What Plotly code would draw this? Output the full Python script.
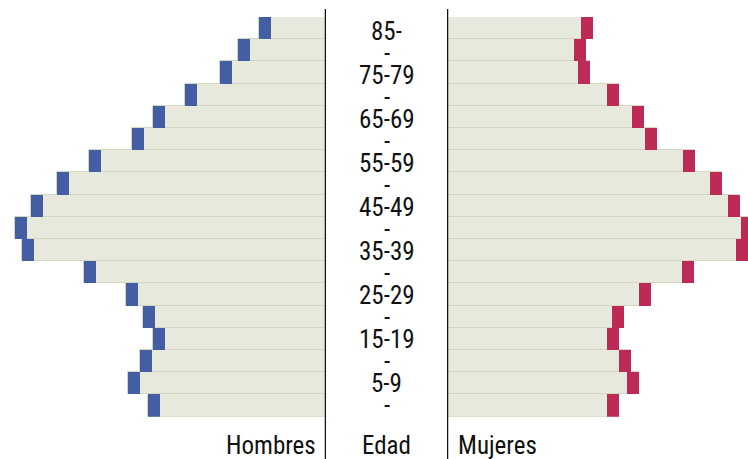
import plotly.graph_objects as go

# Age groups, bottom (youngest) to top (oldest)
ages = ["0-4", "5-9", "10-14", "15-19", "20-24", "25-29", "30-34", "35-39", "40-44",
        "45-49", "50-54", "55-59", "60-64", "65-69", "70-74", "75-79", "80-84", "85-"]
# Labels shown in the middle column (every other group, dashes between)
age_labels = ["-", "5-9", "-", "15-19", "-", "25-29", "-", "35-39", "-",
              "45-49", "-", "55-59", "-", "65-69", "-", "75-79", "-", "85-"]

# Values (relative units)
hombres = [17.8, 19.8, 18.6, 17.3, 18.3, 20.0, 24.2, 30.4, 31.1,
           29.5, 26.9, 23.7, 19.4, 17.3, 14.1, 10.6, 8.8, 6.7]
mujeres = [17.2, 19.2, 18.4, 17.2, 17.7, 20.4, 24.7, 30.1, 30.6,
           29.3, 27.5, 24.8, 21.0, 19.7, 17.2, 14.3, 13.9, 14.6]

MARK = 1.2  # width of the end marker in value units

BEIGE = "#e7e9dc"
BEIGE_LINE = "#d3d7bf"
BLUE = "#445ea3"
RED = "#bc2a55"
FONT = "Roboto Condensed, Liberation Sans Narrow, DejaVu Sans Condensed, sans-serif"
FS = 25

W, H = 748, 459
fig = go.Figure()

# Left (Hombres)
fig.add_trace(go.Bar(y=ages, x=hombres, orientation="h", xaxis="x", yaxis="y",
                     marker=dict(color=BEIGE, line=dict(color=BEIGE_LINE, width=1)),
                     hoverinfo="skip", showlegend=False))
fig.add_trace(go.Bar(y=ages, x=[MARK] * len(ages), base=[v - MARK for v in hombres],
                     orientation="h", xaxis="x", yaxis="y",
                     marker=dict(color=BLUE, line=dict(width=0)),
                     showlegend=False, name="Hombres"))
# Right (Mujeres)
fig.add_trace(go.Bar(y=ages, x=mujeres, orientation="h", xaxis="x2", yaxis="y2",
                     marker=dict(color=BEIGE, line=dict(color=BEIGE_LINE, width=1)),
                     hoverinfo="skip", showlegend=False))
fig.add_trace(go.Bar(y=ages, x=[MARK] * len(ages), base=[v - MARK for v in mujeres],
                     orientation="h", xaxis="x2", yaxis="y2",
                     marker=dict(color=RED, line=dict(width=0)),
                     showlegend=False, name="Mujeres"))

bar_dom = [(H - 416.7) / H, (H - 17) / H]
lab_dom = [(H - 416) / H, (H - 21) / H]

ycommon = dict(type="category", categoryorder="array", categoryarray=ages,
               range=[-0.5, 17.5], showticklabels=False, showgrid=False,
               zeroline=False, showline=False, ticks="", fixedrange=True)

fig.update_layout(
    width=W, height=H,
    margin=dict(l=0, r=0, t=0, b=0),
    paper_bgcolor="white", plot_bgcolor="rgba(0,0,0,0)",
    barmode="overlay", bargap=0,
    font=dict(family=FONT, size=FS, color="#111111"),
    xaxis=dict(domain=[0, 326 / W], range=[32.6, 0], visible=False, anchor="y"),
    yaxis=dict(domain=bar_dom, anchor="x", **ycommon),
    xaxis2=dict(domain=[447 / W, 1], range=[0, 30.1], visible=False, anchor="y2"),
    yaxis2=dict(domain=bar_dom, anchor="x2", **ycommon),
    xaxis3=dict(domain=[326 / W, 447 / W], range=[0, 1], visible=False, anchor="y3"),
    yaxis3=dict(domain=lab_dom, anchor="x3", visible=False, type="category",
                categoryorder="array", categoryarray=ages, range=[-0.5, 17.5]),
    shapes=[
        dict(type="line", xref="x", yref="paper", x0=0, x1=0, y0=0, y1=(H - 9) / H,
             line=dict(color="#111111", width=2.5)),
        dict(type="line", xref="x2", yref="paper", x0=0, x1=0, y0=0, y1=(H - 9) / H,
             line=dict(color="#111111", width=2.5)),
    ],
)

annotations = []
for a, lab in zip(ages, age_labels):
    annotations.append(dict(x=0.5, y=a, xref="x3", yref="y3", text=lab, showarrow=False,
                            xanchor="center", yanchor="middle", borderpad=0,
                            font=dict(family=FONT, size=FS, color="#111111")))
annotations += [
    dict(x=317 / W, y=0, xref="paper", yref="paper", text="Hombres", showarrow=False,
         xanchor="right", yanchor="bottom", borderpad=0, yshift=-2),
    dict(x=0.5, y=0, xref="x3", yref="paper", text="Edad", showarrow=False,
         xanchor="center", yanchor="bottom", borderpad=0, yshift=-2),
    dict(x=457 / W, y=0, xref="paper", yref="paper", text="Mujeres", showarrow=False,
         xanchor="left", yanchor="bottom", borderpad=0, yshift=-2),
]
fig.update_layout(annotations=annotations)

fig.write_html("out.html", config={"displayModeBar": False},
               post_script="document.body.style.margin='0px';document.body.style.overflow='hidden';")
